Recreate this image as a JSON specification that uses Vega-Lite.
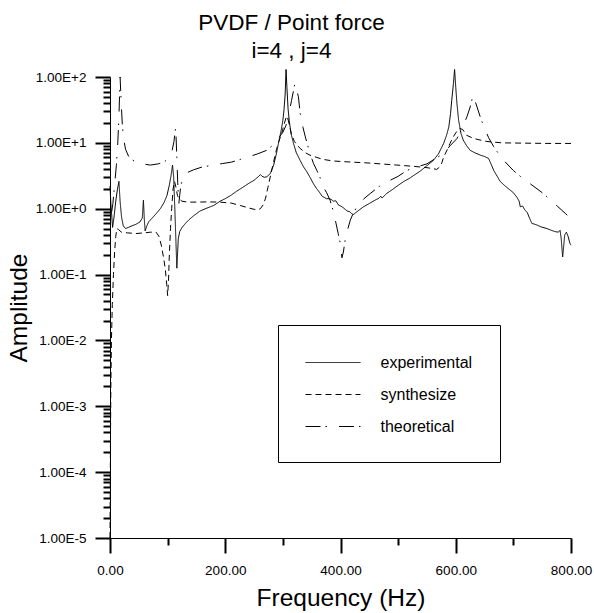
{
  "$schema": "https://vega.github.io/schema/vega-lite/v6.json",
  "width": 461,
  "height": 461,
  "autosize": {"type": "none"},
  "padding": {"left": 110, "top": 77, "right": 23, "bottom": 75},
  "background": "white",
  "title": {"text": ["PVDF / Point force", "i=4 , j=4"], "fontSize": 22.5, "font": "Liberation Sans", "fontWeight": "normal", "color": "black", "lineHeight": 28, "anchor": "middle", "dx": -49, "offset": 5},
  "config": {"view": {"stroke": null}, "font": "Liberation Sans", "axis": {"ticks": true, "tickOpacity": 1, "tickColor": "black", "tickWidth": 2, "tickDash": [], "tickOffset": 0, "tickCap": "butt"}},
  "data": {"values": [
    {"s":"experimental","f":0,"a":2.2},{"s":"experimental","f":1.5,"a":1.2},{"s":"experimental","f":4.5,"a":0.52},{"s":"experimental","f":7,"a":0.75},{"s":"experimental","f":10,"a":1.3},{"s":"experimental","f":13,"a":2.0},{"s":"experimental","f":15.5,"a":2.6},{"s":"experimental","f":17.5,"a":1.3},{"s":"experimental","f":20,"a":0.75},{"s":"experimental","f":23,"a":0.55},{"s":"experimental","f":27,"a":0.5},{"s":"experimental","f":32,"a":0.52},{"s":"experimental","f":38,"a":0.55},{"s":"experimental","f":45,"a":0.58},{"s":"experimental","f":52,"a":0.63},{"s":"experimental","f":56,"a":0.72},{"s":"experimental","f":58,"a":1.35},{"s":"experimental","f":59.5,"a":0.7},{"s":"experimental","f":61,"a":0.46},{"s":"experimental","f":64,"a":0.55},{"s":"experimental","f":67,"a":0.63},{"s":"experimental","f":75,"a":0.75},{"s":"experimental","f":82,"a":0.88},{"s":"experimental","f":88,"a":1.02},{"s":"experimental","f":94,"a":1.25},{"s":"experimental","f":99,"a":1.6},{"s":"experimental","f":103,"a":2.3},{"s":"experimental","f":106,"a":3.2},{"s":"experimental","f":108.5,"a":4.6},{"s":"experimental","f":110.5,"a":3.0},{"s":"experimental","f":112.5,"a":1.0},{"s":"experimental","f":114.5,"a":0.3},{"s":"experimental","f":116,"a":0.125},{"s":"experimental","f":118.5,"a":0.35},{"s":"experimental","f":121,"a":0.45},{"s":"experimental","f":125,"a":0.52},{"s":"experimental","f":131,"a":0.6},{"s":"experimental","f":137,"a":0.68},{"s":"experimental","f":145,"a":0.78},{"s":"experimental","f":156,"a":0.92},{"s":"experimental","f":168,"a":1.02},{"s":"experimental","f":180,"a":1.12},{"s":"experimental","f":191,"a":1.3},{"s":"experimental","f":200,"a":1.42},{"s":"experimental","f":210,"a":1.6},{"s":"experimental","f":220,"a":1.85},{"s":"experimental","f":230,"a":2.1},{"s":"experimental","f":240,"a":2.4},{"s":"experimental","f":250,"a":2.7},{"s":"experimental","f":258,"a":3.1},{"s":"experimental","f":261,"a":3.3},{"s":"experimental","f":264,"a":3.1},{"s":"experimental","f":268,"a":3.0},{"s":"experimental","f":272,"a":3.05},{"s":"experimental","f":278,"a":3.4},{"s":"experimental","f":284,"a":4.6},{"s":"experimental","f":289,"a":7.0},{"s":"experimental","f":293,"a":10.5},{"s":"experimental","f":297,"a":15.5},{"s":"experimental","f":300,"a":22},{"s":"experimental","f":302,"a":32},{"s":"experimental","f":304,"a":55},{"s":"experimental","f":305.5,"a":130},{"s":"experimental","f":307,"a":70},{"s":"experimental","f":309,"a":33},{"s":"experimental","f":311,"a":22},{"s":"experimental","f":314,"a":14},{"s":"experimental","f":318.5,"a":9.8},{"s":"experimental","f":323,"a":7.2},{"s":"experimental","f":330,"a":5.4},{"s":"experimental","f":336,"a":4.3},{"s":"experimental","f":342,"a":3.6},{"s":"experimental","f":348,"a":2.9},{"s":"experimental","f":353,"a":2.4},{"s":"experimental","f":358,"a":2.05},{"s":"experimental","f":362,"a":1.85},{"s":"experimental","f":365,"a":1.7},{"s":"experimental","f":368,"a":1.55},{"s":"experimental","f":372,"a":1.48},{"s":"experimental","f":376,"a":1.42},{"s":"experimental","f":380,"a":1.42},{"s":"experimental","f":384,"a":1.38},{"s":"experimental","f":388,"a":1.3},{"s":"experimental","f":392,"a":1.32},{"s":"experimental","f":396,"a":1.15},{"s":"experimental","f":400,"a":1.1},{"s":"experimental","f":404,"a":1.05},{"s":"experimental","f":408,"a":0.98},{"s":"experimental","f":412,"a":0.92},{"s":"experimental","f":416,"a":0.9},{"s":"experimental","f":420,"a":0.83},{"s":"experimental","f":423,"a":0.82},{"s":"experimental","f":427,"a":0.88},{"s":"experimental","f":432,"a":0.95},{"s":"experimental","f":440,"a":1.07},{"s":"experimental","f":450,"a":1.2},{"s":"experimental","f":460,"a":1.35},{"s":"experimental","f":467,"a":1.45},{"s":"experimental","f":470,"a":1.55},{"s":"experimental","f":472,"a":1.45},{"s":"experimental","f":480,"a":1.7},{"s":"experimental","f":490,"a":1.95},{"s":"experimental","f":498,"a":2.2},{"s":"experimental","f":510,"a":2.6},{"s":"experimental","f":520,"a":2.9},{"s":"experimental","f":527,"a":3.2},{"s":"experimental","f":538,"a":3.7},{"s":"experimental","f":550,"a":4.5},{"s":"experimental","f":561,"a":5.4},{"s":"experimental","f":570,"a":6.8},{"s":"experimental","f":579,"a":9.8},{"s":"experimental","f":584,"a":13},{"s":"experimental","f":588,"a":17.4},{"s":"experimental","f":591,"a":28},{"s":"experimental","f":593,"a":44},{"s":"experimental","f":596,"a":80},{"s":"experimental","f":598,"a":130},{"s":"experimental","f":600,"a":70},{"s":"experimental","f":602,"a":40},{"s":"experimental","f":605,"a":22},{"s":"experimental","f":609,"a":14},{"s":"experimental","f":613,"a":11},{"s":"experimental","f":619,"a":9},{"s":"experimental","f":625,"a":7.7},{"s":"experimental","f":634,"a":7.0},{"s":"experimental","f":643,"a":6.5},{"s":"experimental","f":650,"a":6.2},{"s":"experimental","f":657,"a":5.8},{"s":"experimental","f":662,"a":4.6},{"s":"experimental","f":666,"a":3.8},{"s":"experimental","f":672,"a":3.1},{"s":"experimental","f":677,"a":2.6},{"s":"experimental","f":686,"a":2.2},{"s":"experimental","f":695,"a":1.9},{"s":"experimental","f":700,"a":1.75},{"s":"experimental","f":706,"a":1.5},{"s":"experimental","f":710,"a":1.3},{"s":"experimental","f":712,"a":1.07},{"s":"experimental","f":716,"a":1.1},{"s":"experimental","f":720,"a":0.95},{"s":"experimental","f":724,"a":0.88},{"s":"experimental","f":728,"a":0.72},{"s":"experimental","f":732,"a":0.6},{"s":"experimental","f":740,"a":0.57},{"s":"experimental","f":748,"a":0.53},{"s":"experimental","f":758,"a":0.5},{"s":"experimental","f":766,"a":0.47},{"s":"experimental","f":772,"a":0.45},{"s":"experimental","f":778,"a":0.44},{"s":"experimental","f":781,"a":0.47},{"s":"experimental","f":783,"a":0.35},{"s":"experimental","f":785.5,"a":0.185},{"s":"experimental","f":787,"a":0.25},{"s":"experimental","f":789,"a":0.4},{"s":"experimental","f":792,"a":0.44},{"s":"experimental","f":795,"a":0.38},{"s":"experimental","f":798,"a":0.3},{"s":"experimental","f":800,"a":0.28},
    {"s":"synthesize","f":0,"a":0.00001},{"s":"synthesize","f":0.8,"a":0.0003},{"s":"synthesize","f":1.5,"a":0.002},{"s":"synthesize","f":2.5,"a":0.01},{"s":"synthesize","f":4,"a":0.035},{"s":"synthesize","f":6,"a":0.1},{"s":"synthesize","f":8,"a":0.22},{"s":"synthesize","f":10,"a":0.38},{"s":"synthesize","f":12,"a":0.5},{"s":"synthesize","f":15,"a":0.48},{"s":"synthesize","f":20,"a":0.44},{"s":"synthesize","f":30,"a":0.43},{"s":"synthesize","f":45,"a":0.42},{"s":"synthesize","f":60,"a":0.43},{"s":"synthesize","f":70,"a":0.44},{"s":"synthesize","f":80,"a":0.44},{"s":"synthesize","f":85,"a":0.38},{"s":"synthesize","f":89,"a":0.28},{"s":"synthesize","f":93,"a":0.18},{"s":"synthesize","f":96,"a":0.12},{"s":"synthesize","f":98.5,"a":0.07},{"s":"synthesize","f":100,"a":0.048},{"s":"synthesize","f":101.5,"a":0.08},{"s":"synthesize","f":103,"a":0.2},{"s":"synthesize","f":105,"a":0.5},{"s":"synthesize","f":107,"a":1.0},{"s":"synthesize","f":109.5,"a":2.0},{"s":"synthesize","f":112,"a":2.6},{"s":"synthesize","f":114,"a":2.2},{"s":"synthesize","f":117,"a":1.6},{"s":"synthesize","f":120,"a":1.4},{"s":"synthesize","f":125,"a":1.3},{"s":"synthesize","f":135,"a":1.26},{"s":"synthesize","f":150,"a":1.26},{"s":"synthesize","f":170,"a":1.27},{"s":"synthesize","f":190,"a":1.26},{"s":"synthesize","f":210,"a":1.22},{"s":"synthesize","f":226,"a":1.12},{"s":"synthesize","f":240,"a":1.03},{"s":"synthesize","f":250,"a":0.98},{"s":"synthesize","f":256,"a":0.96},{"s":"synthesize","f":261,"a":1.0},{"s":"synthesize","f":266,"a":1.15},{"s":"synthesize","f":270,"a":1.45},{"s":"synthesize","f":274,"a":2.1},{"s":"synthesize","f":279,"a":3.3},{"s":"synthesize","f":284,"a":5.2},{"s":"synthesize","f":289,"a":8.0},{"s":"synthesize","f":293,"a":10.5},{"s":"synthesize","f":298,"a":14},{"s":"synthesize","f":302,"a":19},{"s":"synthesize","f":305.5,"a":24},{"s":"synthesize","f":308,"a":25},{"s":"synthesize","f":311,"a":19},{"s":"synthesize","f":315,"a":13.5},{"s":"synthesize","f":320,"a":10.5},{"s":"synthesize","f":330,"a":8.2},{"s":"synthesize","f":340,"a":7.0},{"s":"synthesize","f":347,"a":6.5},{"s":"synthesize","f":359,"a":6.0},{"s":"synthesize","f":370,"a":5.6},{"s":"synthesize","f":388,"a":5.3},{"s":"synthesize","f":411,"a":5.15},{"s":"synthesize","f":440,"a":5.0},{"s":"synthesize","f":469,"a":4.8},{"s":"synthesize","f":498,"a":4.6},{"s":"synthesize","f":527,"a":4.4},{"s":"synthesize","f":550,"a":4.2},{"s":"synthesize","f":561,"a":4.05},{"s":"synthesize","f":567,"a":3.95},{"s":"synthesize","f":572,"a":4.3},{"s":"synthesize","f":576,"a":5.0},{"s":"synthesize","f":579,"a":6.1},{"s":"synthesize","f":585,"a":7.8},{"s":"synthesize","f":590,"a":9.8},{"s":"synthesize","f":596,"a":12.5},{"s":"synthesize","f":602,"a":15},{"s":"synthesize","f":607,"a":16.5},{"s":"synthesize","f":612,"a":16},{"s":"synthesize","f":619,"a":13},{"s":"synthesize","f":628,"a":12},{"s":"synthesize","f":637,"a":11.3},{"s":"synthesize","f":654,"a":10.5},{"s":"synthesize","f":680,"a":10},{"s":"synthesize","f":720,"a":9.9},{"s":"synthesize","f":760,"a":9.8},{"s":"synthesize","f":800,"a":9.8},
    {"s":"theoretical","f":3,"a":0.9},{"s":"theoretical","f":5,"a":1.2},{"s":"theoretical","f":8,"a":2.3},{"s":"theoretical","f":11,"a":4.5},{"s":"theoretical","f":13.5,"a":10},{"s":"theoretical","f":15.5,"a":25},{"s":"theoretical","f":17.5,"a":100},{"s":"theoretical","f":19.5,"a":40},{"s":"theoretical","f":21.5,"a":18},{"s":"theoretical","f":24,"a":11},{"s":"theoretical","f":27,"a":8},{"s":"theoretical","f":32,"a":6.3},{"s":"theoretical","f":40,"a":5.4},{"s":"theoretical","f":55,"a":4.8},{"s":"theoretical","f":70,"a":4.6},{"s":"theoretical","f":84,"a":4.8},{"s":"theoretical","f":95,"a":5.2},{"s":"theoretical","f":101,"a":5.8},{"s":"theoretical","f":105,"a":6.6},{"s":"theoretical","f":108,"a":7.8},{"s":"theoretical","f":111,"a":10.5},{"s":"theoretical","f":114,"a":17.5},{"s":"theoretical","f":116,"a":6},{"s":"theoretical","f":117.5,"a":2.5},{"s":"theoretical","f":119.5,"a":1.2},{"s":"theoretical","f":121,"a":1.6},{"s":"theoretical","f":123,"a":2.3},{"s":"theoretical","f":127,"a":2.9},{"s":"theoretical","f":133,"a":3.5},{"s":"theoretical","f":145,"a":3.9},{"s":"theoretical","f":160,"a":4.3},{"s":"theoretical","f":176,"a":4.55},{"s":"theoretical","f":195,"a":4.85},{"s":"theoretical","f":211,"a":5.1},{"s":"theoretical","f":226,"a":5.6},{"s":"theoretical","f":240,"a":6.1},{"s":"theoretical","f":256,"a":6.8},{"s":"theoretical","f":272,"a":7.7},{"s":"theoretical","f":285,"a":9.6},{"s":"theoretical","f":292,"a":11.6},{"s":"theoretical","f":300,"a":14.5},{"s":"theoretical","f":305.5,"a":18.5},{"s":"theoretical","f":310,"a":26},{"s":"theoretical","f":315,"a":44},{"s":"theoretical","f":321,"a":80},{"s":"theoretical","f":327,"a":50},{"s":"theoretical","f":330,"a":28},{"s":"theoretical","f":335,"a":17},{"s":"theoretical","f":339,"a":12.3},{"s":"theoretical","f":347,"a":6.9},{"s":"theoretical","f":353,"a":4.9},{"s":"theoretical","f":359,"a":3.8},{"s":"theoretical","f":365,"a":2.9},{"s":"theoretical","f":370,"a":2.15},{"s":"theoretical","f":376,"a":1.75},{"s":"theoretical","f":382,"a":1.34},{"s":"theoretical","f":387,"a":0.95},{"s":"theoretical","f":391,"a":0.67},{"s":"theoretical","f":396,"a":0.42},{"s":"theoretical","f":399.6,"a":0.3},{"s":"theoretical","f":402.5,"a":0.18},{"s":"theoretical","f":405,"a":0.22},{"s":"theoretical","f":408,"a":0.33},{"s":"theoretical","f":412,"a":0.47},{"s":"theoretical","f":417,"a":0.67},{"s":"theoretical","f":422,"a":0.85},{"s":"theoretical","f":428.6,"a":1.07},{"s":"theoretical","f":440,"a":1.4},{"s":"theoretical","f":451.5,"a":1.7},{"s":"theoretical","f":468,"a":2.2},{"s":"theoretical","f":486,"a":2.7},{"s":"theoretical","f":500,"a":3.1},{"s":"theoretical","f":515,"a":3.8},{"s":"theoretical","f":532,"a":4.3},{"s":"theoretical","f":550,"a":4.8},{"s":"theoretical","f":565,"a":5.8},{"s":"theoretical","f":579,"a":6.9},{"s":"theoretical","f":590,"a":9},{"s":"theoretical","f":602,"a":11.6},{"s":"theoretical","f":610,"a":16},{"s":"theoretical","f":619.5,"a":25},{"s":"theoretical","f":625,"a":35},{"s":"theoretical","f":630,"a":53},{"s":"theoretical","f":637,"a":35},{"s":"theoretical","f":643,"a":24},{"s":"theoretical","f":649,"a":17.4},{"s":"theoretical","f":657,"a":12},{"s":"theoretical","f":666,"a":8.7},{"s":"theoretical","f":680,"a":5.8},{"s":"theoretical","f":700,"a":3.8},{"s":"theoretical","f":714,"a":3.0},{"s":"theoretical","f":729,"a":2.4},{"s":"theoretical","f":752,"a":1.7},{"s":"theoretical","f":776,"a":1.1},{"s":"theoretical","f":790,"a":0.85},{"s":"theoretical","f":800,"a":0.71}
  ]},
  "layer": [
    {
      "transform": [{"filter": "datum.s == 'experimental'"}],
      "mark": {"type": "line", "color": "black", "strokeWidth": 1, "clip": false},
      "encoding": {
        "x": {
          "field": "f", "type": "quantitative",
          "scale": {"domain": [0, 800], "nice": false, "zero": false},
          "axis": {
            "orient": "bottom",
            "values": [0, 200, 400, 600, 800],
            "format": ".2f",
            "tickSize": 15,
            "grid": false,
            "title": "Frequency (Hz)",
            "titleFont": "Liberation Sans", "titleFontSize": 24.5, "titleFontWeight": "normal", "titleColor": "black", "titlePadding": 10,
            "labelFont": "Liberation Sans", "labelFontSize": 13.5, "labelColor": "black", "labelPadding": 10, "labelOverlap": false, "labelFlush": false,
            "domainColor": "black", "domainWidth": 1
          }
        },
        "y": {
          "field": "a", "type": "quantitative",
          "scale": {"type": "log", "domain": [0.00001, 100], "nice": false},
          "axis": {
            "orient": "left",
            "values": [0.00001, 0.0001, 0.001, 0.01, 0.1, 1, 10, 100],
            "labelExpr": "'1.00E' + (round(log(datum.value)/LN10) >= 0 ? '+' : '') + round(log(datum.value)/LN10)",
            "tickSize": 15,
            "grid": false,
            "title": "Amplitude",
            "titleFont": "Liberation Sans", "titleFontSize": 24.5, "titleFontWeight": "normal", "titleColor": "black", "titlePadding": 4,
            "labelFont": "Liberation Sans", "labelFontSize": 13.5, "labelColor": "black", "labelPadding": 9, "labelOverlap": false, "labelFlush": false,
            "domainColor": "black", "domainWidth": 1
          }
        },
        "strokeDash": {
          "field": "s", "type": "nominal",
          "scale": {"domain": ["experimental", "synthesize", "theoretical"], "range": [[1, 0], [6, 4], [15, 5, 1.5, 12]]},
          "legend": {
            "orient": "none", "legendX": 168, "legendY": 248,
            "title": null, "padding": 27, "strokeColor": "black", "fillColor": "white", "cornerRadius": 0,
            "symbolType": "M-2.75,0H2.75", "symbolSize": 400, "symbolOffset": 17.5, "symbolStrokeWidth": 1, "symbolStrokeColor": "black",
            "labelFont": "Liberation Sans", "labelFontSize": 16, "labelColor": "black", "labelOffset": 37, "rowPadding": 13
          }
        }
      }
    },
    {
      "transform": [{"filter": "datum.s != 'experimental'"}],
      "mark": {"type": "line", "color": "black", "strokeWidth": 1, "clip": false},
      "encoding": {
        "x": {
          "field": "f", "type": "quantitative",
          "axis": {
            "orient": "bottom",
            "values": [100, 300, 500, 700],
            "labels": false, "domain": false, "title": null, "grid": false,
            "tickSize": 7
          }
        },
        "y": {
          "field": "a", "type": "quantitative",
          "axis": {
            "orient": "left",
            "values": [0.00002,0.00003,0.00004,0.00005,0.00006,0.00007,0.00008,0.00009,0.0002,0.0003,0.0004,0.0005,0.0006,0.0007,0.0008,0.0009,0.002,0.003,0.004,0.005,0.006,0.007,0.008,0.009,0.02,0.03,0.04,0.05,0.06,0.07,0.08,0.09,0.2,0.3,0.4,0.5,0.6,0.7,0.8,0.9,2,3,4,5,6,7,8,9,20,30,40,50,60,70,80,90],
            "labels": false, "domain": false, "title": null, "grid": false,
            "tickSize": 7
          }
        },
        "strokeDash": {
          "field": "s", "type": "nominal",
          "scale": {"domain": ["experimental", "synthesize", "theoretical"], "range": [[1, 0], [6, 4], [15, 5, 1.5, 12]]},
          "legend": {
            "orient": "none", "legendX": 168, "legendY": 248,
            "title": null, "padding": 27, "strokeColor": "black", "fillColor": "white", "cornerRadius": 0,
            "symbolType": "M-2.75,0H2.75", "symbolSize": 400, "symbolOffset": 17.5, "symbolStrokeWidth": 1, "symbolStrokeColor": "black",
            "labelFont": "Liberation Sans", "labelFontSize": 16, "labelColor": "black", "labelOffset": 37, "rowPadding": 13
          }
        }
      }
    }
  ],
  "resolve": {"axis": {"x": "independent", "y": "independent"}}
}
